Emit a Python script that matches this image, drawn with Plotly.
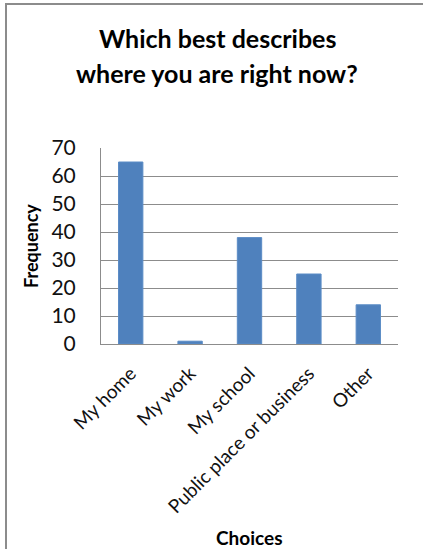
import plotly.graph_objects as go

categories = ["My home", "My work", "My school", "Public place or business", "Other"]
frequency = [65, 1, 38, 25, 14]
y_ticks = [0, 10, 20, 30, 40, 50, 60, 70]
title_lines = ["Which best describes", "where you are right now?"]

FONT = "Lato, 'Open Sans', sans-serif"
W, H = 423, 549
L, R, T, B = 101, 25, 148, 205
pw, ph = W - L - R, H - T - B

def px_x(x):
    return (x - L) / pw

def px_y(y):
    return (H - B - y) / ph

fig = go.Figure(go.Bar(
    x=categories, y=frequency,
    marker=dict(color="#4F81BD", line=dict(color="#5B8CC6", width=1)),
))

title_annots = [
    dict(text="<b>" + line + "</b>", xref="paper", yref="paper",
         x=px_x(217), y=px_y(yc), xanchor="center", yanchor="middle",
         showarrow=False, font=dict(family=FONT, size=25, color="black"))
    for line, yc in zip(title_lines, [38, 73])
]

fig.update_layout(
    width=W, height=H,
    margin=dict(l=L, r=R, t=T, b=B),
    paper_bgcolor="white", plot_bgcolor="white",
    bargap=0.59,
    showlegend=False,
    xaxis=dict(
        tickangle=-45,
        tickfont=dict(family=FONT, size=19, color="#111"),
        showgrid=False, showline=True, linecolor="#8c8c8c", linewidth=1,
        ticks="", ticklabelstandoff=10,
    ),
    yaxis=dict(
        range=[0, 70], tickvals=y_ticks,
        tickfont=dict(family=FONT, size=21, color="#111"),
        showgrid=True, gridcolor="#8c8c8c", gridwidth=1,
        showline=True, linecolor="#8c8c8c", linewidth=1,
        ticks="", zeroline=False, ticklabelstandoff=20,
    ),
    annotations=title_annots + [
        dict(text="<b>Frequency</b>", xref="paper", yref="paper",
             x=px_x(31), y=px_y(246), xanchor="center", yanchor="middle",
             textangle=-90, showarrow=False,
             font=dict(family=FONT, size=18, color="black")),
        dict(text="<b>Choices</b>", xref="paper", yref="paper",
             x=px_x(249), y=px_y(537), xanchor="center", yanchor="middle",
             showarrow=False,
             font=dict(family=FONT, size=19, color="black")),
    ],
    shapes=[
        dict(type="line", xref="paper", yref="paper",
             x0=px_x(6), x1=px_x(6), y0=px_y(3), y1=px_y(H + 5),
             line=dict(color="#8c8c8c", width=2)),
        dict(type="line", xref="paper", yref="paper",
             x0=px_x(5), x1=px_x(W + 5), y0=px_y(4), y1=px_y(4),
             line=dict(color="#8c8c8c", width=2)),
    ],
)

fig.write_html("out.html")
